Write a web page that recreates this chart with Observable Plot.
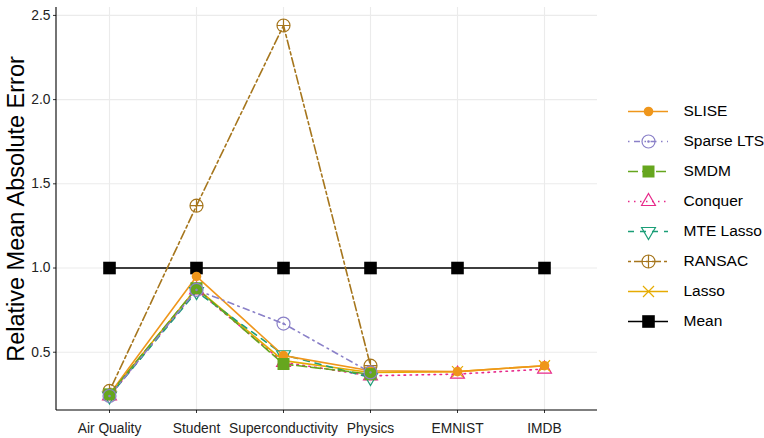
<!DOCTYPE html>
<html>
<head>
<meta charset="utf-8">
<script src="https://cdn.jsdelivr.net/npm/d3@7"></script>
<script src="https://cdn.jsdelivr.net/npm/@observablehq/plot@0.6"></script>
<style>
  html, body { margin: 0; padding: 0; background: white; }
  #wrap { position: relative; width: 764px; height: 438px; font-family: "Liberation Sans", Arial, sans-serif; }
  #legend { position: absolute; left: 600px; top: 95px; }
</style>
</head>
<body>
<div id="wrap"><div id="main"></div><div id="legend"></div></div>
<script>
// ---- data ----
const categories = ["Air Quality", "Student", "Superconductivity", "Physics", "EMNIST", "IMDB"];
const slise     = [0.25, 0.95, 0.48, 0.39, 0.385, 0.42];
const sparseLTS = [0.24, 0.87, 0.67, 0.38, null, null];
const smdm      = [0.25, 0.88, 0.43, 0.37, null, null];
const conquer   = [0.24, 0.87, 0.44, 0.36, 0.37, 0.40];
const mteLasso  = [0.24, 0.86, 0.485, 0.35, null, null];
const ransac    = [0.27, 1.37, 2.44, 0.42, null, null];
const lasso     = [0.25, 0.88, 0.45, 0.38, 0.385, 0.42];
const meanVals  = [1.0, 1.0, 1.0, 1.0, 1.0, 1.0];
const yTicks    = [0.5, 1.0, 1.5, 2.0, 2.5];
const legendOrder = ["SLISE", "Sparse LTS", "SMDM", "Conquer", "MTE Lasso", "RANSAC", "Lasso", "Mean"];
const yLabel = "Relative Mean Absolute Error";

// ---- symbols ----
const rad = s => Math.sqrt(s / Math.PI);
const circleTo = (c, r) => { c.moveTo(r, 0); c.arc(0, 0, r, 0, 2 * Math.PI); };
const symbols = {
  circle:  { draw(c, s) { circleTo(c, rad(s)); } },
  circDot: { draw(c, s) { const r = rad(s); circleTo(c, r); circleTo(c, 0.7); } },
  square:  { draw(c, s) { const r = rad(s); c.rect(-r, -r, 2 * r, 2 * r); } },
  triUp:   { draw(c, s) { const r = rad(s), h = r * Math.sin(Math.PI / 3);
                          c.moveTo(0, -r); c.lineTo(h, r / 2); c.lineTo(-h, r / 2); c.closePath(); } },
  triDown: { draw(c, s) { const r = rad(s), h = r * Math.sin(Math.PI / 3);
                          c.moveTo(0, r); c.lineTo(h, -r / 2); c.lineTo(-h, -r / 2); c.closePath(); } },
  circPlus:{ draw(c, s) { const r = rad(s); circleTo(c, r);
                          c.moveTo(-r, 0); c.lineTo(r, 0); c.moveTo(0, -r); c.lineTo(0, r); } },
  times:   { draw(c, s) { const r = rad(s); c.moveTo(-r, -r); c.lineTo(r, r); c.moveTo(-r, r); c.lineTo(r, -r); } }
};

// ---- series styles (drawing order) ----
const series = [
  { name: "Conquer",    values: conquer,   color: "#e7298a", dash: "1.5,4.5",         sym: symbols.triUp,   r: 8,   filled: false },
  { name: "Lasso",      values: lasso,     color: "#e6ab02", dash: null,              sym: symbols.times,   r: 5.5, filled: false },
  { name: "Mean",       values: meanVals,  color: "#000000", dash: null,              sym: symbols.square,  r: 6.3, filled: true  },
  { name: "MTE Lasso",  values: mteLasso,  color: "#1b9e77", dash: "6,6",             sym: symbols.triDown, r: 8,   filled: false },
  { name: "RANSAC",     values: ransac,    color: "#a6761d", dash: "3,3,9,3",         sym: symbols.circPlus,r: 6.5, filled: false },
  { name: "SLISE",      values: slise,     color: "#ef961b", dash: null,              sym: symbols.circle,  r: 4.8, filled: true  },
  { name: "SMDM",       values: smdm,      color: "#66a61e", dash: "10,4",            sym: symbols.square,  r: 6,   filled: true  },
  { name: "Sparse LTS", values: sparseLTS, color: "#8a80c8", dash: "1.5,4.5,6,4.5",   sym: symbols.circDot, r: 6.5, filled: false }
];
const rows = s => categories.map((c, i) => ({ cat: c, v: s.values[i] })).filter(d => d.v != null);
const dotOpts = s => s.filled
  ? { fill: s.color, stroke: "none" }
  : { fill: "none", stroke: s.color, strokeWidth: 1.2 };

const font = "'Liberation Sans', Arial, sans-serif";
const yDomain = [0.154, 2.547];

const axisLines = (index, scales, values, dim) => {
  const g = d3.create("svg:g").attr("stroke", "#000").attr("stroke-width", 1.1);
  g.append("line").attr("x1", dim.marginLeft).attr("x2", dim.marginLeft)
    .attr("y1", dim.marginTop).attr("y2", dim.height - dim.marginBottom);
  g.append("line").attr("x1", dim.marginLeft).attr("x2", dim.width - dim.marginRight)
    .attr("y1", dim.height - dim.marginBottom).attr("y2", dim.height - dim.marginBottom);
  return g.node();
};

const main = Plot.plot({
  width: 764, height: 438,
  marginLeft: 56, marginRight: 167, marginTop: 7, marginBottom: 28,
  style: { fontFamily: font, fontSize: "13.8px", color: "#222", background: "white" },
  x: { type: "point", domain: categories, padding: 0.6, label: null },
  y: { domain: yDomain, label: null },
  marks: [
    Plot.gridX(categories, { stroke: "#ebebeb", strokeOpacity: 1, strokeWidth: 1.1 }),
    Plot.gridY(yTicks, { stroke: "#ebebeb", strokeOpacity: 1, strokeWidth: 1.1 }),
    Plot.axisX({ tickSize: 3, tickPadding: 10, fontSize: 13.8, label: null, stroke: "#333" }),
    Plot.axisY(yTicks, { tickSize: 3, tickPadding: 3, fontSize: 13.8, label: null, tickFormat: d3.format(".1f"), stroke: "#333" }),
    axisLines,
    ...series.map(s => Plot.line(rows(s), {
      x: "cat", y: "v", stroke: s.color, strokeWidth: 1.6,
      strokeDasharray: s.dash || undefined
    })),
    ...series.map(s => Plot.dot(rows(s), {
      x: "cat", y: "v", symbol: s.sym, r: s.r, ...dotOpts(s)
    })),
    Plot.text([yLabel], { frameAnchor: "left", rotate: -90, dx: -40, fontSize: 23.5, fill: "#000", textAnchor: "middle" })
  ]
});
document.getElementById("main").appendChild(main);

// ---- legend ----
const byName = Object.fromEntries(series.map(s => [s.name, s]));
const legend = Plot.plot({
  width: 164, height: 250,
  margin: 0,
  style: { fontFamily: font, fontSize: "15.5px", background: "transparent" },
  x: { type: "linear", domain: [0, 1], range: [28, 68], axis: null },
  y: { type: "point", domain: legendOrder, range: [15.7, 225.7], padding: 0, axis: null },
  marks: [
    ...legendOrder.map(n => Plot.ruleY([n], {
      y: d => d, x1: 0, x2: 1, stroke: byName[n].color, strokeWidth: 1.6,
      strokeDasharray: byName[n].dash || undefined
    })),
    ...legendOrder.map(n => Plot.dot([n], {
      x: () => 0.5, y: d => d, symbol: byName[n].sym, r: byName[n].r, ...dotOpts(byName[n])
    })),
    Plot.text(legendOrder, { x: () => 1, y: d => d, text: d => d, dx: 15, textAnchor: "start", fill: "#000", fontSize: 15.5 })
  ]
});
document.getElementById("legend").appendChild(legend);
</script>
</body>
</html>
